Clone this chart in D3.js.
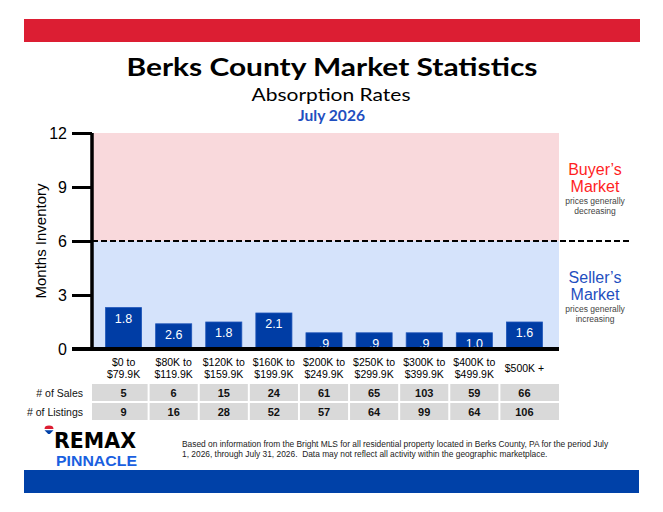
<!DOCTYPE html>
<html>
<head>
<meta charset="utf-8">
<style>
  body { margin: 0; background: #fff; }
  svg { display: block; }
</style>
</head>
<body>
<svg width="663" height="512"></svg>

<script src="https://d3js.org/d3.v7.min.js"></script>
<script>
	// price ranges, two lines each
	const categories = [
		["$0 to", "$79.9K"], ["$80K to", "$119.9K"], ["$120K to", "$159.9K"],
		["$160K to", "$199.9K"], ["$200K to", "$249.9K"], ["$250K to", "$299.9K"],
		["$300K to", "$399.9K"], ["$400K to", "$499.9K"], ["$500K +"]
	]
	// bar heights as drawn (months) and the labels printed on them
	const barValues = [2.3, 1.4, 1.5, 2.0, 0.9, 0.9, 0.9, 0.9, 1.5]
	const barLabels = ["1.8", "2.6", "1.8", "2.1", ".9", ".9", ".9", "1.0", "1.6"]
	const sales = [5, 6, 15, 24, 61, 65, 103, 59, 66]
	const listings = [9, 16, 28, 52, 57, 64, 99, 64, 106]
	const yTicks = [0, 3, 6, 9, 12]
	const threshold = 6

	const svg = d3.select("svg")
	const keys = categories.map(d => d.join(" "))

	const plotLeft = 92, plotRight = 559, plotTop = 133, plotBottom = 349

	const x = d3.scaleBand()
		.domain(keys)
		.range([98.5, 549.5])
		.paddingInner(0.28)
		.paddingOuter(0.14)

	const y = d3.scaleLinear()
		.domain([0, 12])
		.range([plotBottom, plotTop])

	// header / footer bands
	svg.append("rect").attr("x", 24).attr("y", 19).attr("width", 616).attr("height", 23).attr("fill", "#dc1e33")
	svg.append("rect").attr("x", 24).attr("y", 470).attr("width", 615).attr("height", 23).attr("fill", "#0041a8")

	// titles (stretched a little, the original face is wider than Lato)
	svg.append("text").attr("x", 332).attr("y", 76).attr("text-anchor", "middle")
		.attr("font-family", "Lato").attr("font-weight", 700).attr("font-size", 24.5)
		.attr("textLength", 411).attr("lengthAdjust", "spacingAndGlyphs")
		.attr("fill", "#000").text("Berks County Market Statistics")
	svg.append("text").attr("x", 331).attr("y", 101).attr("text-anchor", "middle")
		.attr("font-family", "Lato").attr("font-size", 18)
		.attr("textLength", 159).attr("lengthAdjust", "spacingAndGlyphs")
		.attr("fill", "#000").text("Absorption Rates")
	svg.append("text").attr("x", 331.5).attr("y", 121).attr("text-anchor", "middle")
		.attr("font-family", "Lato").attr("font-weight", 700).attr("font-size", 14.5)
		.attr("textLength", 67).attr("lengthAdjust", "spacingAndGlyphs")
		.attr("fill", "#1f4fc0").text("July 2026")

	// market zones
	svg.append("rect").attr("x", plotLeft).attr("y", y(12)).attr("width", plotRight - plotLeft)
		.attr("height", y(threshold) - y(12)).attr("fill", "#f9d9dc")
	svg.append("rect").attr("x", plotLeft).attr("y", y(threshold)).attr("width", plotRight - plotLeft)
		.attr("height", y(0) - y(threshold)).attr("fill", "#d5e3fb")

	// bars
	const bars = svg.append("g").selectAll("g")
		.data(keys.map((k, i) => ({key: k, value: barValues[i], label: barLabels[i]})))
		.join("g")

	bars.append("rect")
		.attr("x", d => x(d.key))
		.attr("y", d => y(d.value))
		.attr("width", x.bandwidth())
		.attr("height", d => y(0) - y(d.value))
		.attr("fill", "#003da5")
		.attr("stroke", "#1f55b8")
		.attr("stroke-width", 0.8)

	bars.append("text")
		.attr("x", d => x(d.key) + x.bandwidth() / 2)
		.attr("y", d => y(d.value) + 15)
		.attr("text-anchor", "middle")
		.attr("font-family", "Liberation Sans")
		.attr("font-size", 12.5)
		.attr("fill", "#fff")
		.text(d => d.label)

	// dashed threshold line
	svg.append("line")
		.attr("x1", plotLeft).attr("x2", 632)
		.attr("y1", y(threshold)).attr("y2", y(threshold))
		.attr("stroke", "#000").attr("stroke-width", 2).attr("stroke-dasharray", "6,3")

	// y axis
	const yAxis = svg.append("g")
		.attr("transform", `translate(${plotLeft},0)`)
		.call(d3.axisLeft(y).tickValues(yTicks).tickSize(20).tickPadding(5))
	yAxis.select(".domain").attr("stroke-width", 3.5).attr("d", `M0,${plotTop}V${plotBottom}`)
	yAxis.selectAll(".tick line").attr("stroke-width", 3)
	yAxis.selectAll(".tick text")
		.attr("font-family", "Liberation Sans").attr("font-size", 16).attr("fill", "#000")

	// x baseline
	svg.append("line")
		.attr("x1", 72).attr("x2", plotRight)
		.attr("y1", plotBottom).attr("y2", plotBottom)
		.attr("stroke", "#000").attr("stroke-width", 4)

	svg.append("text")
		.attr("transform", `translate(46,${(plotTop + plotBottom) / 2}) rotate(-90)`)
		.attr("text-anchor", "middle")
		.attr("font-family", "Liberation Sans").attr("font-size", 15)
		.attr("fill", "#000").text("Months Inventory")

	// category labels
	svg.append("g").selectAll("text")
		.data(categories)
		.join("text")
		.attr("text-anchor", "middle")
		.attr("font-family", "Liberation Sans").attr("font-size", 10.5).attr("fill", "#000")
		.attr("transform", (d, i) => `translate(${x(keys[i]) + x.bandwidth() / 2},${d.length > 1 ? 366 : 372})`)
		.selectAll("tspan")
		.data(d => d)
		.join("tspan")
		.attr("x", 0)
		.attr("dy", (d, i) => i ? 12 : 0)
		.text(d => d)

	// zone notes
	const notes = [
		{lines: ["Buyer\u2019s", "Market"], sub: ["prices generally", "decreasing"], top: 175, color: "#ff1f1f"},
		{lines: ["Seller\u2019s", "Market"], sub: ["prices generally", "increasing"], top: 283, color: "#1f4fc0"}
	]
	notes.forEach(n => {
		n.lines.forEach((t, i) => {
			svg.append("text").attr("x", 595).attr("y", n.top + i * 17).attr("text-anchor", "middle")
				.attr("font-family", "Liberation Sans").attr("font-size", 16).attr("fill", n.color).text(t)
		})
		n.sub.forEach((t, i) => {
			svg.append("text").attr("x", 595).attr("y", n.top + 28.5 + i * 10).attr("text-anchor", "middle")
				.attr("font-family", "Liberation Sans").attr("font-size", 8.5).attr("fill", "#444").text(t)
		})
	})

	// table under the chart: column edges halfway between bar centres
	const centres = keys.map(k => x(k) + x.bandwidth() / 2)
	const edges = [plotLeft]
	for (let i = 1; i < centres.length; i++) edges.push((centres[i - 1] + centres[i]) / 2)
	edges.push(plotRight)

	const rows = [
		{name: "# of Sales", values: sales, y: 384},
		{name: "# of Listings", values: listings, y: 403}
	]
	rows.forEach(r => {
		const g = svg.append("g")
		g.selectAll("rect")
			.data(r.values)
			.join("rect")
			.attr("x", (d, i) => edges[i] + (i ? 1 : 0))
			.attr("y", r.y)
			.attr("width", (d, i) => edges[i + 1] - edges[i] - (i ? 1 : 0) - (i < r.values.length - 1 ? 1 : 0))
			.attr("height", 17)
			.attr("fill", "#d9d9d9")
		g.selectAll("text")
			.data(r.values)
			.join("text")
			.attr("x", (d, i) => centres[i])
			.attr("y", r.y + 12.5)
			.attr("text-anchor", "middle")
			.attr("font-family", "Liberation Sans").attr("font-weight", 700).attr("font-size", 11)
			.attr("fill", "#111")
			.text(d => d)
		g.append("text")
			.attr("x", 83).attr("y", r.y + 12.5).attr("text-anchor", "end")
			.attr("font-family", "Liberation Sans").attr("font-size", 10.5).attr("fill", "#111")
			.text(r.name)
	})

	// logo
	const logo = svg.append("g")
	const balloon = logo.append("g").attr("transform", "translate(49,429)")
	balloon.append("path").attr("d", "M-4.5,0 A4.5,3.4 0 0 1 4.5,0 Z").attr("fill", "#dc1e33")
	balloon.append("rect").attr("x", -4.5).attr("y", 0).attr("width", 9).attr("height", 1.2).attr("fill", "#fff")
	balloon.append("path").attr("d", "M-4.5,1.2 L4.5,1.2 L0.8,5 L-0.8,5 Z").attr("fill", "#0041a8")
	logo.append("text").attr("x", 54).attr("y", 448)
		.attr("font-family", "DejaVu Sans").attr("font-weight", 700).attr("font-size", 21)
		.attr("textLength", 82).attr("lengthAdjust", "spacingAndGlyphs")
		.attr("fill", "#000").text("REMAX")
	logo.append("text").attr("x", 56).attr("y", 466)
		.attr("font-family", "Liberation Sans").attr("font-weight", 700).attr("font-size", 15.5)
		.attr("textLength", 81).attr("lengthAdjust", "spacingAndGlyphs")
		.attr("fill", "#1a5fe0").text("PINNACLE")

	// footnote
	const foot = [
		"Based on information from the Bright MLS for all residential property located in Berks County, PA for the period July",
		"1, 2026, through July 31, 2026.  Data may not reflect all activity within the geographic marketplace."
	]
	foot.forEach((t, i) => {
		svg.append("text").attr("x", 182).attr("y", 447 + i * 10)
			.attr("font-family", "Liberation Sans").attr("font-size", 8.4).attr("fill", "#222")
			.attr("xml:space", "preserve").text(t)
	})
</script>
</body>
</html>
